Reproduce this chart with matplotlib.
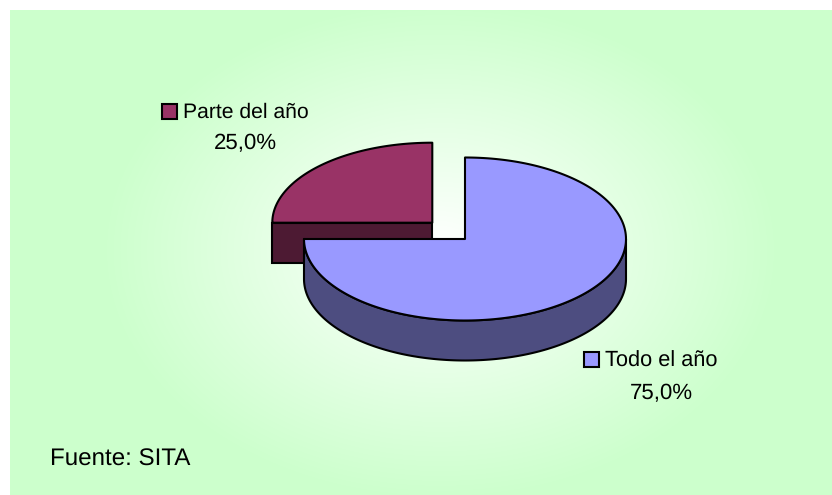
import numpy as np
import matplotlib
matplotlib.use('Agg')
import matplotlib.pyplot as plt
from matplotlib.patches import Polygon, Rectangle

plt.rcParams['font.family'] = ['Liberation Sans', 'DejaVu Sans']
plt.rcParams['text.hinting'] = 'no_hinting'

categories = ['Todo el año', 'Parte del año']
values = [75.0, 25.0]
value_labels = ['75,0%', '25,0%']
source = 'Fuente: SITA'

top_colors = ['#9999ff', '#993366']
side_colors = ['#4d4d80', '#4d1a33']


def arc(cx, cy, rx, ry, start, stop):
    # angles in degrees, clockwise from 12 o'clock, y axis points down
    t = np.radians(np.linspace(start, stop, 200))
    return np.column_stack([cx + rx * np.sin(t), cy - ry * np.cos(t)])


def draw_slice(ax, cx, cy, rx, ry, depth, start, stop, top, side):
    # outer wall, only the part of the rim facing the viewer
    lo, hi = max(start, 90), min(stop, 270)
    if hi > lo:
        rim = arc(cx, cy, rx, ry, lo, hi)
        wall = np.vstack([rim, (rim + [0, depth])[::-1]])
        ax.add_patch(Polygon(wall, fc=side, ec='black', lw=1.5, joinstyle='round'))
    # cut face that looks to the front
    if start > 180:
        edge = arc(cx, cy, rx, ry, start, start)[0]
        face = [(cx, cy), edge, edge + [0, depth], (cx, cy + depth)]
        ax.add_patch(Polygon(face, fc=side, ec='black', lw=1.5))
    pts = np.vstack([[(cx, cy)], arc(cx, cy, rx, ry, start, stop)])
    ax.add_patch(Polygon(pts, fc=top, ec='black', lw=1.5, joinstyle='round'))


fig = plt.figure(figsize=(8.32, 4.95), dpi=100)
ax = fig.add_axes([0, 0, 1, 1])

# panel with the white to green radial fill
xx, yy = np.meshgrid(np.arange(10, 832), np.arange(10, 495))
t = np.sqrt(((xx - 440) / 340.0) ** 2 + ((yy - 250) / 250.0) ** 2)
t = np.clip(t, 0, 1)[..., None]
white = np.array([1.0, 1.0, 1.0])
green = np.array([0xcc, 0xff, 0xcc]) / 255.0
ax.imshow(white * (1 - t) + green * t, extent=(10, 832, 495, 10),
          aspect='auto', zorder=0, interpolation='bilinear')
ax.set_xlim(0, 832)
ax.set_ylim(495, 0)
ax.axis('off')

# slice angles come from the values, the first one starts at 12 o'clock
stops = np.cumsum(values) / np.sum(values) * 360
starts = np.concatenate([[0], stops[:-1]])

# back slice is pulled out, so it goes first
draw_slice(ax, 432.3, 222.7, 160, 80, 40, starts[1], stops[1], top_colors[1], side_colors[1])
draw_slice(ax, 465, 239, 161, 81.5, 40, starts[0], stops[0], top_colors[0], side_colors[0])

# labels
ax.add_patch(Rectangle((162, 104), 14.5, 14.5, fc=top_colors[1], ec='black', lw=1.5))
ax.text(183, 112, categories[1], fontsize=15.2, va='center', ha='left', color='black')
ax.text(245, 143, value_labels[1], fontsize=16, va='center', ha='center', color='black')

ax.add_patch(Rectangle((584, 352), 14.5, 14.5, fc=top_colors[0], ec='black', lw=1.5))
ax.text(605, 361.5, categories[0], fontsize=15.7, va='center', ha='left', color='black')
ax.text(661, 393, value_labels[0], fontsize=16, va='center', ha='center', color='black')

ax.text(50, 460, source, fontsize=17.4, va='center', ha='left', color='black')

fig.savefig('out.png', dpi=100)
